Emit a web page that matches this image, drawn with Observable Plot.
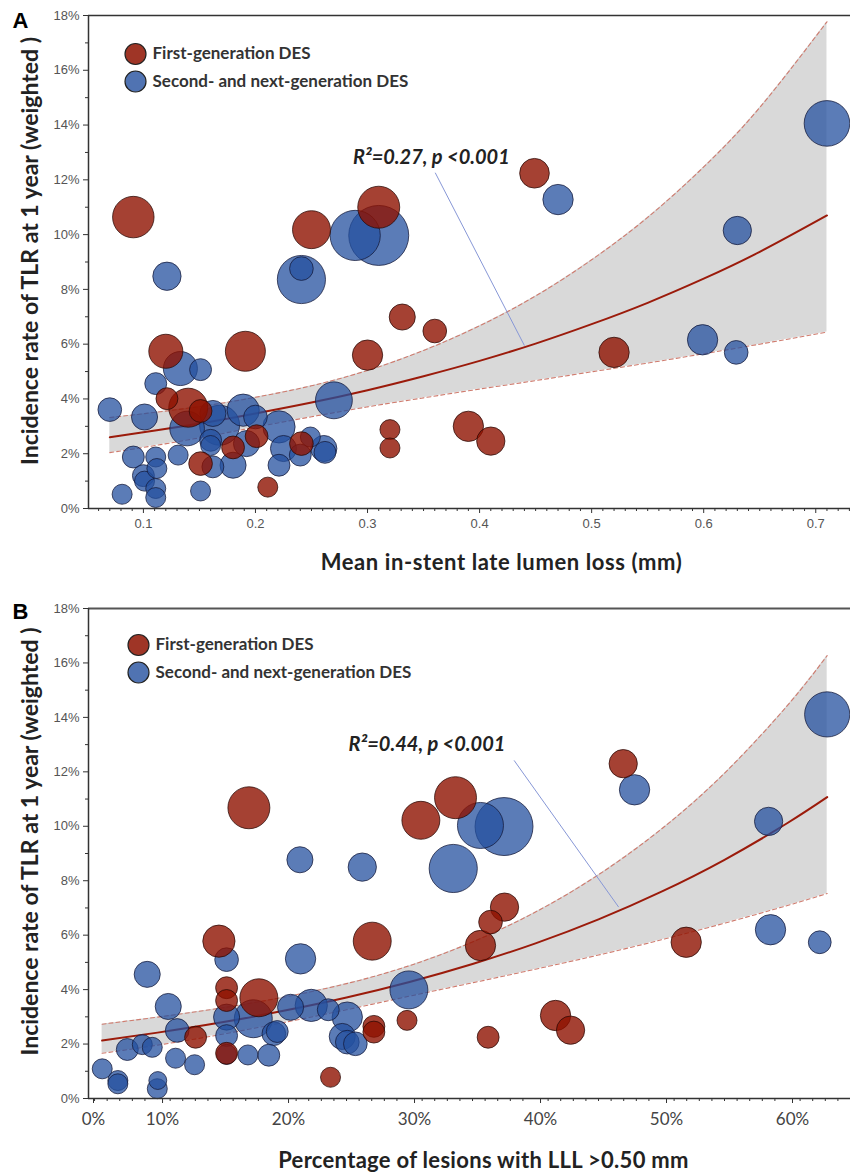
<!DOCTYPE html>
<html>
<head>
<meta charset="utf-8">
<script src="https://cdn.jsdelivr.net/npm/d3@7"></script>
<script src="https://cdn.jsdelivr.net/npm/@observablehq/plot@0.6"></script>
<style>
  html, body { margin: 0; padding: 0; background: #fff; }
  #chart { width: 850px; }
  #chart svg { display: block; }
</style>
</head>
<body>
<div id="chart"></div>
<script>
// ---------- Labels ----------
const yTitle = "Incidence rate of TLR at 1 year (weighted )";
const xTitleA = "Mean in-stent late lumen loss (mm)";
const xTitleB = "Percentage of lesions with LLL >0.50 mm";
const seriesNames = ["First-generation DES", "Second- and next-generation DES"];
const statA = "R\u00B2=0.27, p <0.001";
const statB = "R\u00B2=0.44, p <0.001";

// ---------- Axes ----------
const yTicks = [0, 2, 4, 6, 8, 10, 12, 14, 16, 18];
const yMinorTicks = [1, 3, 5, 7, 9, 11, 13, 15, 17];
const xDomainA = [0.051, 0.731];
const xTicksA = [0.1, 0.2, 0.3, 0.4, 0.5, 0.6, 0.7];
const xTickLabelsA = ["0.1", "0.2", "0.3", "0.4", "0.5", "0.6", "0.7"];
const xDomainB = [4.52, 65.0];
const xTicksB = [4.52, 10, 20, 30, 40, 50, 60];
const xTickLabelsB = ["0%", "10%", "20%", "30%", "40%", "50%", "60%"];

// ---------- Panel A studies: [LLL mm, TLR %, relative weight] ----------
const firstGenA = [
  [0.091, 10.64, 4.3], [0.250, 10.18, 3.6], [0.310, 11.00, 4.4], [0.120, 5.74, 2.9],
  [0.121, 4.01, 1.2], [0.140, 3.68, 3.8], [0.151, 3.56, 1.3], [0.151, 1.64, 1.4],
  [0.180, 2.23, 1.3], [0.191, 5.74, 4.0], [0.201, 2.64, 1.3], [0.211, 0.78, 1.0],
  [0.241, 2.37, 1.4], [0.300, 5.60, 2.3], [0.331, 6.99, 1.7], [0.360, 6.48, 1.4],
  [0.320, 2.88, 1.0], [0.320, 2.21, 1.0], [0.449, 12.24, 2.2], [0.520, 5.70, 2.3],
  [0.390, 3.00, 2.3], [0.410, 2.46, 2.0]
];
const secondGenA = [
  [0.121, 8.48, 2.0], [0.289, 9.97, 6.3], [0.310, 9.97, 9.0], [0.241, 8.36, 5.8],
  [0.241, 8.76, 1.4], [0.070, 3.61, 1.4], [0.081, 0.52, 1.0], [0.091, 1.88, 1.2],
  [0.101, 3.34, 1.7], [0.100, 1.20, 1.2], [0.101, 1.00, 1.0], [0.111, 4.56, 1.2],
  [0.111, 1.88, 1.0], [0.112, 1.46, 1.0], [0.111, 0.73, 1.0], [0.111, 0.40, 1.0],
  [0.133, 5.11, 2.9], [0.131, 1.95, 1.0], [0.139, 2.92, 3.0], [0.151, 5.07, 1.2],
  [0.151, 0.64, 1.0], [0.162, 1.52, 1.2], [0.160, 2.49, 1.2], [0.160, 2.30, 1.0],
  [0.162, 3.47, 1.7], [0.168, 3.04, 4.0], [0.180, 1.58, 1.7], [0.189, 3.59, 2.6],
  [0.192, 2.37, 1.7], [0.200, 3.34, 1.4], [0.221, 2.98, 2.6], [0.221, 1.58, 1.2],
  [0.225, 2.19, 1.7], [0.240, 1.95, 1.2], [0.249, 2.61, 1.0], [0.261, 2.19, 1.7],
  [0.262, 2.05, 1.2], [0.270, 3.95, 3.4], [0.470, 11.28, 2.3], [0.630, 10.15, 2.0],
  [0.710, 14.06, 5.2], [0.599, 6.16, 2.3], [0.629, 5.70, 1.4]
];

// ---------- Panel B studies: [% lesions LLL>0.5, TLR %, relative weight] ----------
const firstGenB = [
  [17.25, 10.68, 4.4], [30.90, 10.22, 3.6], [33.65, 11.05, 4.4], [46.96, 12.30, 2.0],
  [37.54, 7.03, 2.0], [36.43, 6.48, 1.4], [35.63, 5.62, 2.3], [36.24, 2.25, 1.2],
  [41.59, 3.05, 2.3], [42.78, 2.51, 2.0], [51.96, 5.74, 2.3], [29.80, 2.87, 1.0],
  [13.02, 2.25, 1.2], [14.87, 5.78, 2.6], [15.48, 4.07, 1.2], [15.48, 3.60, 1.2],
  [15.48, 1.66, 1.2], [18.04, 3.70, 3.6], [27.04, 5.78, 3.6], [23.73, 0.78, 1.0],
  [27.17, 2.65, 1.2], [27.17, 2.44, 1.2]
];
const secondGenB = [
  [21.30, 8.77, 1.7], [26.25, 8.50, 2.0], [35.63, 10.03, 5.3], [37.50, 9.99, 8.4],
  [33.47, 8.45, 5.8], [47.86, 11.34, 2.3], [58.50, 10.18, 2.0], [63.15, 14.11, 5.1],
  [29.95, 3.99, 3.6], [58.65, 6.20, 2.3], [62.56, 5.74, 1.3], [5.61, 1.09, 1.0],
  [6.85, 0.66, 1.0], [6.85, 0.54, 1.0], [7.60, 1.80, 1.2], [8.79, 1.98, 1.0],
  [9.58, 1.88, 1.0], [9.18, 4.56, 1.7], [10.02, 0.66, 0.8], [9.98, 0.36, 1.0],
  [10.85, 3.38, 1.7], [11.56, 2.50, 1.4], [11.43, 1.48, 1.0], [12.94, 1.24, 1.0],
  [15.48, 5.10, 1.4], [15.48, 2.99, 1.7], [15.48, 2.31, 1.2], [15.48, 1.62, 1.0],
  [17.60, 2.93, 3.6], [17.17, 1.60, 1.0], [18.83, 1.59, 1.2], [19.23, 2.38, 1.4],
  [19.50, 2.46, 1.2], [20.56, 3.35, 1.7], [21.35, 5.13, 2.3], [22.20, 3.42, 2.6],
  [23.55, 3.26, 1.2], [25.06, 2.99, 2.3], [24.66, 2.28, 1.7], [25.06, 2.07, 1.4],
  [25.70, 2.01, 1.4]
];

// ---------- Meta-regression fit and 95% band ----------
const fitXA    = [0.07, 0.10, 0.15, 0.20, 0.25, 0.30, 0.35, 0.40, 0.45, 0.50, 0.55, 0.60, 0.65, 0.71];
const fitYA    = [2.60, 2.78, 3.10, 3.47, 3.87, 4.32, 4.83, 5.39, 6.02, 6.73, 7.51, 8.39, 9.37, 10.70];
const fitLowA  = [2.04, 2.23, 2.58, 2.97, 3.35, 3.71, 4.04, 4.36, 4.67, 4.99, 5.31, 5.65, 6.00, 6.44];
const fitHighA = [3.32, 3.46, 3.72, 4.06, 4.48, 5.04, 5.77, 6.67, 7.76, 9.08, 10.63, 12.47, 14.64, 17.77];

const fitXB    = [5.6, 10, 15, 20, 25, 30, 35, 40, 45, 50, 55, 60, 63.15];
const fitYB    = [2.13, 2.42, 2.79, 3.22, 3.71, 4.28, 4.94, 5.70, 6.58, 7.60, 8.77, 10.12, 11.07];
const fitLowB  = [1.66, 1.96, 2.35, 2.79, 3.26, 3.76, 4.25, 4.75, 5.27, 5.83, 6.44, 7.09, 7.53];
const fitHighB = [2.73, 2.99, 3.32, 3.72, 4.22, 4.88, 5.75, 6.85, 8.22, 9.90, 11.95, 14.44, 16.27];

// ---------- Annotation anchors [x, y] ----------
const statPosA = [0.287, 12.82];
const pointerA = [[0.3604, 12.26], [0.44, 5.95]];
const statPosB = [25.16, 13.0];
const pointerB = [[38.3, 12.42], [46.6, 7.03]];

// ---------- Styling ----------
const RED = "#8e1200";
const BLUE = "#24509f";
const TITLE_FONT = "Lato, 'Open Sans', sans-serif";
const TICK_FONT = "'Liberation Sans', Arial, sans-serif";

function panel(cfg) {
  const band = cfg.fitX.map((x, i) => ({x, y: cfg.fitY[i], lo: cfg.fitLow[i], hi: cfg.fitHigh[i]}));
  const toObj = arr => arr.map(([x, y, w]) => ({x, y, w}));
  const svg = Plot.plot({
    width: 850,
    height: 586,
    marginLeft: 88,
    marginRight: 0,
    marginTop: cfg.marginTop,
    marginBottom: cfg.marginBottom,
    style: {fontFamily: TICK_FONT, background: "#fff", overflow: "visible"},
    x: {domain: cfg.xDomain},
    y: {domain: [0, 18]},
    r: {type: "sqrt", domain: [0, 9], range: [0, 30]},
    marks: [
      Plot.areaY(band, {x: "x", y1: "lo", y2: "hi", fill: "#d9d9d9", curve: "natural"}),
      Plot.line(band, {x: "x", y: "hi", stroke: "#cf7b6e", strokeWidth: 1.1, strokeDasharray: "4,3", curve: "natural"}),
      Plot.line(band, {x: "x", y: "lo", stroke: "#cf7b6e", strokeWidth: 1.1, strokeDasharray: "4,3", curve: "natural"}),
      Plot.line(band, {x: "x", y: "y", stroke: "#9b1b0b", strokeWidth: 2, curve: "natural"}),
      Plot.link([cfg.pointer], {x1: d => d[0][0], y1: d => d[0][1], x2: d => d[1][0], y2: d => d[1][1], stroke: "#8797d6", strokeWidth: 1}),
      Plot.dot(toObj(cfg.second), {x: "x", y: "y", r: "w", fill: BLUE, fillOpacity: 0.75, stroke: "#141a3a", strokeOpacity: 0.75, strokeWidth: 1}),
      Plot.dot(toObj(cfg.first), {x: "x", y: "y", r: "w", fill: RED, fillOpacity: 0.8, stroke: "#2a0a05", strokeOpacity: 0.75, strokeWidth: 1}),
      Plot.text([cfg.stat], {x: cfg.statPos[0], y: cfg.statPos[1], text: d => d, textAnchor: "start", lineAnchor: "middle",
        fontFamily: TITLE_FONT, fontWeight: 700, fontStyle: "italic", fontSize: 20, fill: "#222"}),
      // legend
      Plot.dot([0], {frameAnchor: "top-left", dx: cfg.legendDx, dy: cfg.legendDy, r: 10.5, fill: RED, fillOpacity: 0.85, stroke: "#222", strokeWidth: 1.2}),
      Plot.dot([0], {frameAnchor: "top-left", dx: cfg.legendDx, dy: cfg.legendDy + 27.5, r: 10.5, fill: BLUE, fillOpacity: 0.8, stroke: "#222", strokeWidth: 1.2}),
      Plot.text([seriesNames[0]], {frameAnchor: "top-left", dx: cfg.legendDx + 17, dy: cfg.legendDy, text: d => d, textAnchor: "start", lineAnchor: "middle",
        fontFamily: TITLE_FONT, fontWeight: 700, fontSize: 17, fill: "#333"}),
      Plot.text([seriesNames[1]], {frameAnchor: "top-left", dx: cfg.legendDx + 17, dy: cfg.legendDy + 27.5, text: d => d, textAnchor: "start", lineAnchor: "middle",
        fontFamily: TITLE_FONT, fontWeight: 700, fontSize: 17, fill: "#333"}),
      // frame lines
      Plot.ruleY([0], {stroke: "#333", strokeWidth: 1.5}),
      Plot.ruleY([18], {stroke: cfg.topColor, strokeWidth: cfg.topWidth}),
      Plot.ruleX([cfg.xDomain[0]], {y1: 0, y2: 18, stroke: "#333", strokeWidth: 1.5}),
      // axes
      Plot.axisY({ticks: yTicks, tickSize: 5, tickPadding: 4, tickFormat: d => d + "%", fontSize: 13, fill: "#555", stroke: "#333", label: null}),
      Plot.axisY({ticks: yMinorTicks, tickSize: 3, text: null, stroke: "#333", label: null}),
      Plot.axisX({ticks: cfg.xTicks, tickSize: 5, tickPadding: cfg.xTickPadding, tickFormat: (d, i) => cfg.xTickLabels[i],
        fontSize: cfg.xTickFontSize, fontFamily: cfg.xTickFont, fill: cfg.xTickColor, stroke: "#333", label: null, dx: cfg.xTickDx}),
      Plot.axisX({ticks: cfg.xMinor, tickSize: 3, text: null, stroke: "#333", label: null}),
      // titles
      Plot.text([yTitle], {frameAnchor: "left", dx: -58, dy: cfg.yTitleDy, rotate: -90, text: d => d, textAnchor: "middle", lineAnchor: "middle",
        fontFamily: TITLE_FONT, fontWeight: 700, fontSize: 23, fill: "#222"}),
      Plot.text([cfg.xTitle], {frameAnchor: "bottom", dx: cfg.xTitleDx, dy: cfg.xTitleDy, text: d => d, textAnchor: "middle", lineAnchor: "middle",
        fontFamily: TITLE_FONT, fontWeight: 700, fontSize: 22, fill: "#222"}),
      Plot.text([cfg.letter], {frameAnchor: "top-left", dx: -68, dy: cfg.letterDy, text: d => d, textAnchor: "middle", lineAnchor: "bottom",
        fontFamily: "'Liberation Sans', Arial, sans-serif", fontWeight: 700, fontSize: 22, fill: "#000"})
    ]
  });
  // title tracking to match the reference
  d3.select(svg).selectAll("text").each(function () {
    if (this.textContent === cfg.xTitle) d3.select(this).style("letter-spacing", cfg.xTitleSpacing);
  });
  return svg;
}

const minorA = d3.range(6, 74).map(i => i / 100).filter(v => Math.round(v * 100) % 10 !== 0);
const minorB = d3.range(5, 65).filter(v => v % 10 !== 0);

const chart = document.getElementById("chart");
chart.appendChild(panel({
  letter: "A", letterDy: 12,
  marginTop: 15, marginBottom: 78,
  xDomain: xDomainA, xTicks: xTicksA, xTickLabels: xTickLabelsA, xMinor: minorA,
  xTickPadding: 5, xTickFontSize: 13, xTickFont: TICK_FONT, xTickDx: 0, xTickColor: "#555",
  first: firstGenA, second: secondGenA,
  fitX: fitXA, fitY: fitYA, fitLow: fitLowA, fitHigh: fitHighA,
  stat: statA, statPos: statPosA, pointer: pointerA,
  legendDx: 47, legendDy: 38.5,
  topColor: "#333", topWidth: 1.5,
  yTitleDy: -11,
  xTitle: xTitleA, xTitleDx: 32, xTitleDy: 54, xTitleSpacing: "0.6px"
}));
chart.appendChild(panel({
  letter: "B", letterDy: 10,
  marginTop: 22, marginBottom: 74,
  xDomain: xDomainB, xTicks: xTicksB, xTickLabels: xTickLabelsB, xMinor: minorB,
  xTickPadding: 9, xTickFontSize: 17, xTickFont: TITLE_FONT, xTickDx: 5, xTickColor: "#444",
  first: firstGenB, second: secondGenB,
  fitX: fitXB, fitY: fitYB, fitLow: fitLowB, fitHigh: fitHighB,
  stat: statB, statPos: statPosB, pointer: pointerB,
  legendDx: 50, legendDy: 36.5,
  topColor: "#555", topWidth: 2,
  yTitleDy: -12,
  xTitle: xTitleB, xTitleDx: 14, xTitleDy: 62, xTitleSpacing: "0.3px"
}));
</script>
</body>
</html>
